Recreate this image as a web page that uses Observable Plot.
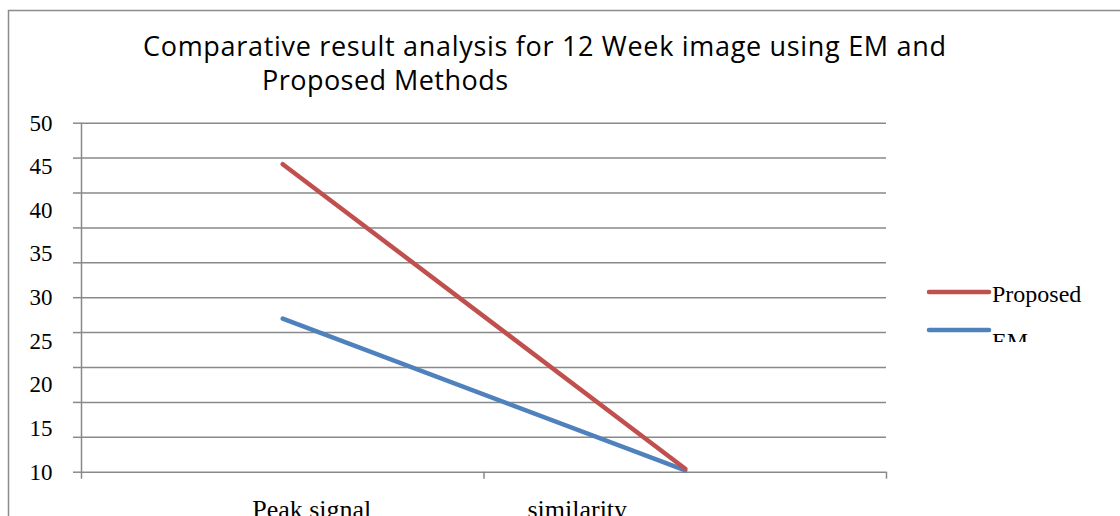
<!DOCTYPE html>
<html><head><meta charset="utf-8">
<script src="https://cdn.jsdelivr.net/npm/d3@7"></script>
<script src="https://cdn.jsdelivr.net/npm/@observablehq/plot@0.6"></script>
<style>body{margin:0;background:#fff;overflow:hidden;} svg{display:block;}</style>
</head><body><div id="chart"></div>
<script>
const categories = ["Peak signal", "similarity"];
const proposed = [45.3, 10.4];
const em = [27.6, 10.2];
const seriesNames = ["Proposed", "EM"];
const seriesColors = ["#C0504D", "#4F81BD"];
const gridTicks = [10, 14, 18, 22, 26, 30, 34, 38, 42, 46, 50];
const labelTicks = [10, 15, 20, 25, 30, 35, 40, 45, 50];
const titleLines = ["Comparative result analysis for 12 Week image using EM and", "Proposed Methods"];

const rows = [];
categories.forEach((c, i) => {
  rows.push({cat: c, i, value: em[i], series: "EM"});
});
categories.forEach((c, i) => {
  rows.push({cat: c, i, value: proposed[i], series: "Proposed"});
});

const W = 1120, H = 516;
const gray = "#898989";
const serif = "'Liberation Serif', 'Times New Roman', serif";

const plot = Plot.plot({
  width: W, height: H,
  marginLeft: 81, marginRight: W - 886, marginTop: 122.7, marginBottom: H - 471.7,
  style: {background: "#fff", overflow: "visible"},
  x: {domain: [0, 2], label: null},
  y: {domain: [10, 50], label: null},
  color: {domain: seriesNames, range: seriesColors},
  marks: [
    Plot.ruleY(gridTicks, {stroke: gray, strokeWidth: 1.5, strokeOpacity: 1}),
    Plot.ruleX([0], {stroke: gray, strokeWidth: 1.5, strokeOpacity: 1}),
    Plot.axisY(gridTicks, {tickSize: 8, tickFormat: () => "", stroke: gray, strokeWidth: 1.5, strokeOpacity: 1, label: null}),
    Plot.axisY(labelTicks, {tickSize: 0, tickPadding: 29, fontSize: 23, fontFamily: serif, fill: "#000", label: null, textStroke: "none", dy: 0}),
    Plot.axisX([0, 1, 2], {tickSize: 7, tickFormat: () => "", stroke: gray, strokeWidth: 1.5, strokeOpacity: 1, label: null}),
    Plot.text(categories.slice(0, 1), {x: () => 0.5, y: 10, dx: 29, dy: 37, text: d => d, fontSize: 26, fontFamily: serif, fill: "#000", ariaLabel: "xlabels"}),
    Plot.text(categories.slice(1, 2), {x: () => 1.5, y: 10, dx: -108, dy: 37, text: d => d, fontSize: 26, fontFamily: serif, fill: "#000", ariaLabel: "xlabels"}),
    Plot.line(rows, {x: d => d.i + 0.5, y: "value", z: "series", stroke: "series", strokeWidth: 4.5, strokeLinecap: "round", strokeLinejoin: "round"})
  ]
});

document.getElementById("chart").appendChild(plot);
const svg = d3.select(plot);

// clip for bottom labels and legend
const defs = svg.append("defs");
defs.append("clipPath").attr("id", "clipBottom").append("rect").attr("x", 0).attr("y", 0).attr("width", W).attr("height", 508);
defs.append("clipPath").attr("id", "clipLegend").append("rect").attr("x", 900).attr("y", 260).attr("width", 220).attr("height", 82);
svg.selectAll('g[aria-label="xlabels"]').attr("clip-path", "url(#clipBottom)");

// outer frame
svg.append("path").attr("d", `M8.5,${H} V10.5 H${W}`).attr("fill", "none").attr("stroke", "#8c8c8c").attr("stroke-width", 1.5);

// title
const titleG = svg.append("g").attr("font-family", "'Open Sans', sans-serif").attr("font-size", 27).attr("fill", "#000").attr("text-anchor", "start");
titleG.append("text").attr("x", 143).attr("y", 55.7).attr("textLength", 803).attr("lengthAdjust", "spacing").text(titleLines[0]);
titleG.append("text").attr("x", 262).attr("y", 90).attr("textLength", 246).attr("lengthAdjust", "spacing").text(titleLines[1]);

// legend
const legY = [292, 330];
const legTextY = [302, 349];
const leg = svg.append("g").attr("clip-path", "url(#clipLegend)").attr("text-anchor", "start");
seriesNames.forEach((name, k) => {
  leg.append("line").attr("x1", 929).attr("x2", 989).attr("y1", legY[k]).attr("y2", legY[k])
    .attr("stroke", seriesColors[k]).attr("stroke-width", 4.5).attr("stroke-linecap", "round");
  leg.append("text").attr("x", 992).attr("y", legTextY[k]).attr("font-family", serif).attr("font-size", 24).attr("fill", "#000").text(name);
});
</script>
</body></html>
